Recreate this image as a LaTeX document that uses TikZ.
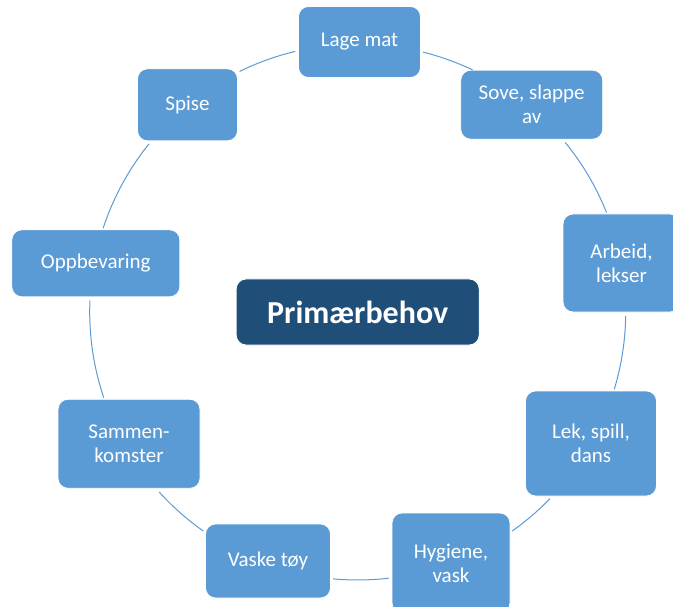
\documentclass[tikz,border=0pt]{standalone}
\usepackage{fontspec}
\setmainfont{Carlito}
\definecolor{boxblue}{HTML}{5B9BD5}
\definecolor{darkblue}{HTML}{1F4E79}
\begin{document}
\begin{tikzpicture}[x=1pt,y=1pt,
  item/.style={draw=white, line width=0.8pt, fill=boxblue, rounded corners=10pt,
    text=white, align=center, inner sep=0pt, font=\fontsize{21}{24}\selectfont},
  core/.style={draw=white, line width=0.8pt, fill=darkblue, rounded corners=10pt,
    text=white, align=center, inner sep=0pt, font=\fontsize{32}{36}\selectfont\bfseries,
    minimum width=243pt, minimum height=66pt},
  link/.style={draw=boxblue, line width=1pt}]
\useasboundingbox (0,0) rectangle (673,-607);
\node[core] (prim) at (357.7,-312) {Primærbehov};
\node[item, minimum width=122pt, minimum height=71pt] (lage) at (359.5,-42) {Lage mat};
\node[item, minimum width=142pt, minimum height=69pt] (sove) at (531.7,-104.7) {Sove, slappe\\av};
\node[item, minimum width=117pt, minimum height=98pt] (arb) at (621.5,-263) {Arbeid,\\lekser};
\node[item, minimum width=131pt, minimum height=105pt] (lek) at (591,-443.5) {Lek, spill,\\dans};
\node[item, minimum width=118pt, minimum height=100pt] (hyg) at (451,-563) {Hygiene,\\vask};
\node[item, minimum width=125pt, minimum height=74pt] (vask) at (268,-561) {Vaske tøy};
\node[item, minimum width=142pt, minimum height=89pt] (samm) at (129,-443.8) {Sammen-\\komster};
\node[item, minimum width=168pt, minimum height=67pt] (oppb) at (95.8,-263.3) {Oppbevaring};
\node[item, minimum width=100pt, minimum height=72pt] (spise) at (187.5,-104.8) {Spise};
% cycle arcs (lage -> sove -> arb -> lek -> hyg -> vask -> samm -> oppb -> spise -> lage)
\draw[link] ([shift={(75.9:268)}]prim.center) arc[start angle=75.9, end angle=64.6, radius=268];
\draw[link] ([shift={(39.25:268)}]prim.center) arc[start angle=39.25, end angle=21.8, radius=268];
\draw[link] ([shift={(-0.88:268)}]prim.center) arc[start angle=-0.88, end angle=-16.77, radius=268];
\draw[link] ([shift={(-44.16:268)}]prim.center) arc[start angle=-44.16, end angle=-54.85, radius=268];
\draw[link] ([shift={(-83.3:268)}]prim.center) arc[start angle=-83.3, end angle=-95.25, radius=268];
\draw[link] ([shift={(-125.2:268)}]prim.center) arc[start angle=-125.2, end angle=-137.8, radius=268];
\draw[link] ([shift={(-161.36:268)}]prim.center) arc[start angle=-161.36, end angle=-182.46, radius=268];
\draw[link] ([shift={(161.8:268)}]prim.center) arc[start angle=161.8, end angle=141.15, radius=268];
\draw[link] ([shift={(116.17:268)}]prim.center) arc[start angle=116.17, end angle=103.47, radius=268];
\end{tikzpicture}
\end{document}
